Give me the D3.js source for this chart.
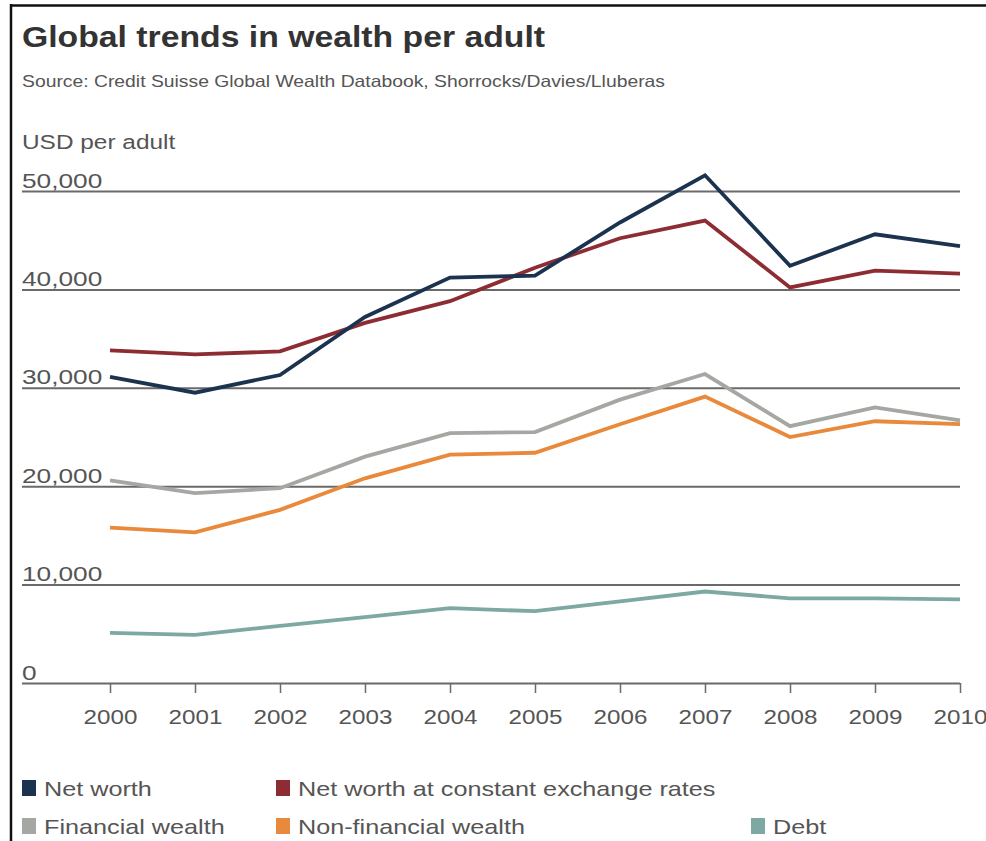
<!DOCTYPE html>
<html>
<head>
<meta charset="utf-8">
<script src="https://cdn.jsdelivr.net/npm/d3@7"></script>
<style>
  html, body { margin: 0; padding: 0; background: #fff; }
  svg { display: block; }
  text { font-family: "Liberation Sans", Arial, sans-serif; }
</style>
</head>
<body>
<svg id="chart" width="986" height="841"></svg>
<script>
// Wealth per adult, USD
const years = [2000, 2001, 2002, 2003, 2004, 2005, 2006, 2007, 2008, 2009, 2010];
const netWorth          = [31100, 29500, 31300, 37200, 41200, 41400, 46800, 51600, 42400, 45600, 44400];
const netWorthConstFx   = [33800, 33400, 33700, 36600, 38800, 42200, 45200, 47000, 40200, 41900, 41600];
const financialWealth   = [20600, 19300, 19800, 23000, 25400, 25500, 28800, 31400, 26100, 28000, 26700];
const nonFinancialWealth= [15800, 15300, 17600, 20800, 23200, 23400, 26300, 29100, 25000, 26600, 26300];
const debt              = [5100, 4900, 5800, 6700, 7600, 7300, 8300, 9300, 8600, 8600, 8500];
const yTicks = [0, 10000, 20000, 30000, 40000, 50000];

const seriesNames = ["Net worth", "Net worth at constant exchange rates", "Financial wealth", "Non-financial wealth", "Debt"];
const seriesColors = ["#1c3350", "#8d2d33", "#a4a7a2", "#e8893b", "#7ea8a2"];

const series = [
  { name: seriesNames[4], color: seriesColors[4], values: debt },
  { name: seriesNames[2], color: seriesColors[2], values: financialWealth },
  { name: seriesNames[3], color: seriesColors[3], values: nonFinancialWealth },
  { name: seriesNames[1], color: seriesColors[1], values: netWorthConstFx },
  { name: seriesNames[0], color: seriesColors[0], values: netWorth }
];

const svg = d3.select("#chart");

// stretch text horizontally to the wide face used in the layout
function widen(sel, factor) {
  sel.each(function () {
    const w = this.getComputedTextLength();
    d3.select(this).attr("textLength", w * factor).attr("lengthAdjust", "spacingAndGlyphs");
  });
}
function fitTo(sel, width) {
  sel.attr("textLength", width).attr("lengthAdjust", "spacingAndGlyphs");
}

// frame
svg.append("line").attr("x1", 11).attr("x2", 11).attr("y1", 4).attr("y2", 841)
  .attr("stroke", "#111").attr("stroke-width", 2.5);
svg.append("line").attr("x1", 10).attr("x2", 986).attr("y1", 5.5).attr("y2", 5.5)
  .attr("stroke", "#111").attr("stroke-width", 2.5);

// headings
svg.append("text").attr("x", 22).attr("y", 47)
  .attr("font-size", 29).attr("font-weight", "bold").attr("fill", "#333")
  .text("Global trends in wealth per adult").call(fitTo, 523);
svg.append("text").attr("x", 22).attr("y", 87)
  .attr("font-size", 16.5).attr("fill", "#555")
  .text("Source: Credit Suisse Global Wealth Databook, Shorrocks/Davies/Lluberas").call(fitTo, 643);
svg.append("text").attr("x", 22).attr("y", 149)
  .attr("font-size", 20).attr("fill", "#555")
  .text("USD per adult").call(widen, 1.22);

// scales
const x = d3.scalePoint().domain(years).range([110, 960]);
const y = d3.scaleLinear().domain([0, 50000]).range([683, 191]);
const gridLeft = 22, gridRight = 960;

// horizontal grid + y labels
const yAxis = svg.append("g").attr("class", "y-axis")
  .attr("transform", `translate(${gridLeft},0)`)
  .call(d3.axisRight(y).tickValues(yTicks).tickSize(gridRight - gridLeft)
    .tickFormat(d3.format(",")));
yAxis.select(".domain").remove();
yAxis.selectAll(".tick line").attr("stroke", "#6a6a6a").attr("stroke-width", 2);
yAxis.selectAll(".tick text")
  .attr("x", 0).attr("y", 0).attr("dy", -4).attr("text-anchor", "start")
  .attr("font-size", 21).attr("fill", "#555")
  .call(widen, 1.25);

// x axis ticks + labels
const xAxis = svg.append("g").attr("class", "x-axis")
  .attr("transform", `translate(0,${y(0)})`)
  .call(d3.axisBottom(x).tickSize(10).tickPadding(17).tickFormat(d3.format("d")));
xAxis.select(".domain").remove();
xAxis.selectAll(".tick line").attr("stroke", "#6a6a6a").attr("stroke-width", 1.5);
xAxis.selectAll(".tick text").attr("font-size", 19.5).attr("fill", "#555")
  .call(widen, 1.24);

// series lines
const line = d3.line()
  .x((d, i) => x(years[i]))
  .y(d => y(d));

svg.append("g").attr("class", "series")
  .selectAll("path").data(series).join("path")
  .attr("d", d => line(d.values))
  .attr("fill", "none")
  .attr("stroke", d => d.color)
  .attr("stroke-width", 3.8)
  .attr("stroke-linejoin", "miter");

// legend
const legendItems = [
  { name: seriesNames[0], color: seriesColors[0], x: 22, y: 788 },
  { name: seriesNames[1], color: seriesColors[1], x: 276, y: 788 },
  { name: seriesNames[2], color: seriesColors[2], x: 22, y: 826 },
  { name: seriesNames[3], color: seriesColors[3], x: 276, y: 826 },
  { name: seriesNames[4], color: seriesColors[4], x: 751, y: 826 }
];
const lg = svg.append("g").attr("class", "legend")
  .selectAll("g").data(legendItems).join("g")
  .attr("transform", d => `translate(${d.x},${d.y})`);
lg.append("rect").attr("x", 0).attr("y", -8).attr("width", 14).attr("height", 16)
  .attr("fill", d => d.color);
lg.append("text").attr("x", 22).attr("y", 8)
  .attr("font-size", 21).attr("fill", "#555")
  .text(d => d.name).call(widen, 1.2);
</script>
</body>
</html>
